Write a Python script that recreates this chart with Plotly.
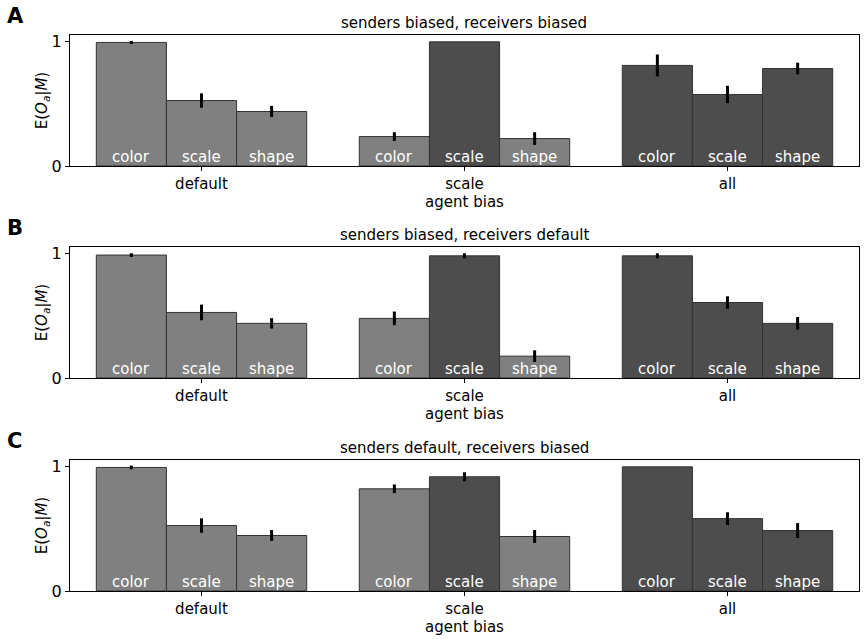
"""Grouped bar panels: expected outcome by agent bias for three sender/receiver settings."""

import plotly.graph_objects as go
from plotly.subplots import make_subplots

# ---- data ---------------------------------------------------------------
bias_groups = ["default", "scale", "all"]
features = ["color", "scale", "shape"]
panel_titles = [
    "senders biased, receivers biased",
    "senders biased, receivers default",
    "senders default, receivers biased",
]
panel_letters = ["A", "B", "C"]

# values[panel][feature] -> one value per bias group
values_a = {
    "color": [0.995, 0.237, 0.81],
    "scale": [0.527, 1.0, 0.576],
    "shape": [0.439, 0.221, 0.785],
}
errors_a = {
    "color": [0.012, 0.035, 0.088],
    "scale": [0.058, 0.0, 0.07],
    "shape": [0.045, 0.051, 0.047],
}
values_b = {
    "color": [0.99, 0.48, 0.984],
    "scale": [0.528, 0.984, 0.608],
    "shape": [0.44, 0.176, 0.44],
}
errors_b = {
    "color": [0.015, 0.055, 0.02],
    "scale": [0.063, 0.02, 0.05],
    "shape": [0.042, 0.047, 0.051],
}
values_c = {
    "color": [0.995, 0.823, 1.0],
    "scale": [0.527, 0.92, 0.583],
    "shape": [0.447, 0.439, 0.487],
}
errors_c = {
    "color": [0.015, 0.035, 0.0],
    "scale": [0.058, 0.036, 0.051],
    "shape": [0.044, 0.052, 0.06],
}
panels = [(values_a, errors_a), (values_b, errors_b), (values_c, errors_c)]

LIGHT = "#808080"
DARK = "#4d4d4d"
EDGE = "#333333"
FONT = "DejaVu Sans"
BAR_W = 0.8 / 3
W, H = 866, 639


def bar_color(group, feature):
    # a bar is dark when the agents are biased towards that feature
    if group == "all" or group == feature:
        return DARK
    return LIGHT


fig = make_subplots(rows=3, cols=1)

for row, (vals, errs) in enumerate(panels, start=1):
    for i, feat in enumerate(features):
        offset = (i - 1) * BAR_W
        xs = [g + offset for g in range(len(bias_groups))]
        fig.add_trace(
            go.Bar(
                x=xs,
                y=vals[feat],
                width=BAR_W,
                marker=dict(
                    color=[bar_color(g, feat) for g in bias_groups],
                    line=dict(color=EDGE, width=1),
                ),
                error_y=dict(
                    type="data", array=errs[feat], color="black",
                    thickness=3, width=0,
                ),
                showlegend=False,
                hoverinfo="y",
            ),
            row=row, col=1,
        )
        # feature name written at the foot of each bar
        suffix = "" if row == 1 else str(row)
        for x in xs:
            fig.add_annotation(
                text=feat, x=x, y=0, xref="x" + suffix, yref="y" + suffix,
                xanchor="center", yanchor="bottom", yshift=-2, showarrow=False,
                font=dict(color="white", size=15, family=FONT),
            )

panel_px = [(35, 166), (247, 378), (460, 591)]
y_domains = [(1 - b / H, 1 - t / H) for t, b in panel_px]
x_domain = (70 / W, 859 / W)

for row in range(1, 4):
    fig.update_xaxes(
        domain=x_domain,
        range=[-0.5, 2.5],
        tickvals=[0, 1, 2],
        ticktext=bias_groups,
        ticks="outside", ticklen=4, tickcolor="black",
        showline=True, mirror=True, linecolor="black", linewidth=1,
        showgrid=False, zeroline=False, automargin=False,
        tickfont=dict(size=15, family=FONT, color="black"),
        title=dict(text="agent bias", font=dict(size=15, family=FONT, color="black"), standoff=0),
        row=row, col=1,
    )
    fig.update_yaxes(
        domain=y_domains[row - 1],
        range=[0, 1.055],
        tickvals=[0, 1],
        ticks="outside", ticklen=4, tickcolor="black",
        showline=True, mirror=True, linecolor="black", linewidth=1,
        showgrid=False, zeroline=False, automargin=False,
        tickfont=dict(size=16, family=FONT, color="black"),
        title=dict(
            text="E(<i>O</i><sub><i>a</i></sub>|<i>M</i>)",
            font=dict(size=15, family=FONT, color="black"),
            standoff=0,
        ),
        row=row, col=1,
    )

for (top, _), title, letter in zip(panel_px, panel_titles, panel_letters):
    fig.add_annotation(
        text=title, xref="paper", yref="paper",
        x=(x_domain[0] + x_domain[1]) / 2, y=1 - (top - 12) / H,
        xanchor="center", yanchor="middle", showarrow=False,
        font=dict(size=15, family=FONT, color="black"),
    )
    fig.add_annotation(
        text="<b>" + letter + "</b>", xref="paper", yref="paper",
        x=5 / W, y=1 - (top - 19) / H,
        xanchor="left", yanchor="middle", showarrow=False,
        font=dict(size=21, family=FONT, color="black"),
    )

fig.update_layout(
    width=W, height=H,
    margin=dict(l=0, r=0, t=0, b=0),
    plot_bgcolor="white", paper_bgcolor="white",
    barmode="overlay",
    font=dict(family=FONT),
)

# drop the default page margin so the figure sits at the window's corner
fig.write_html(
    "out.html",
    config={"displayModeBar": False},
    post_script="document.body.style.margin='0';document.body.style.overflow='hidden';",
)
